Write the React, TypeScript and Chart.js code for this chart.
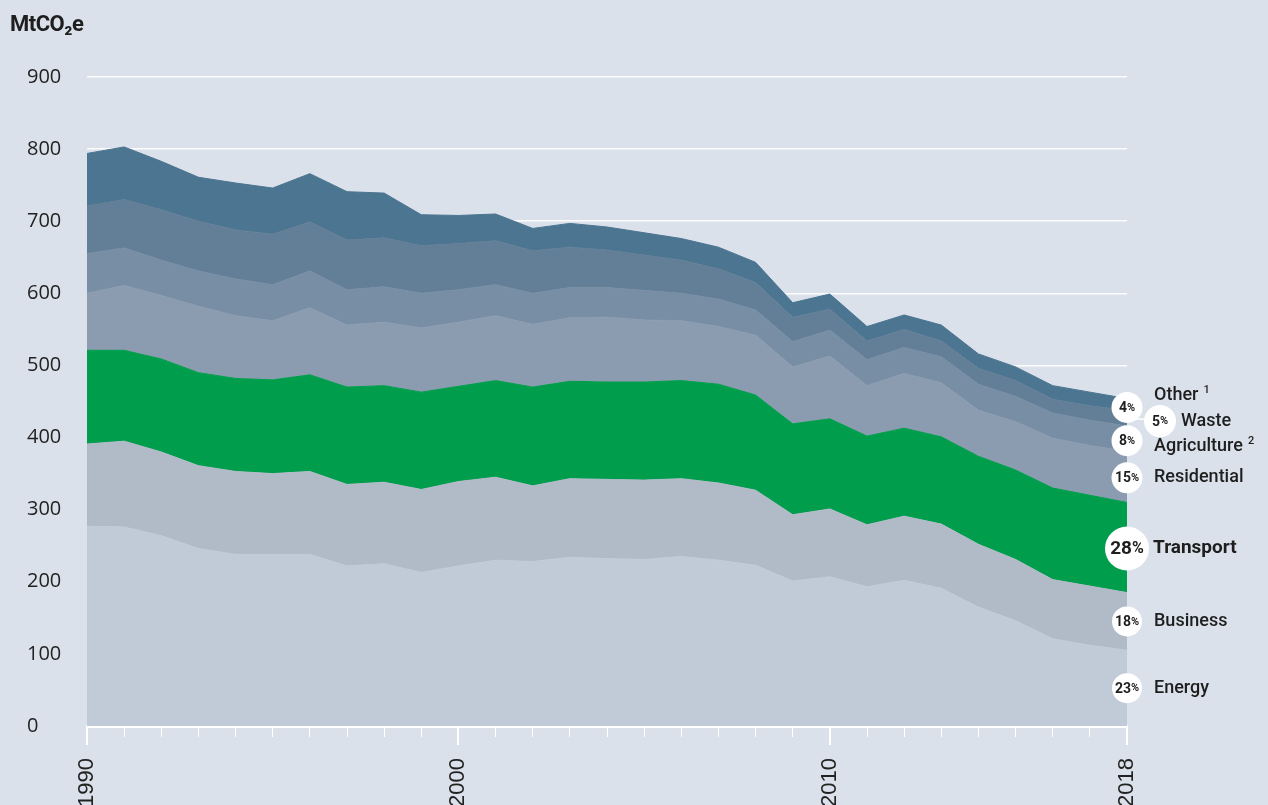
import React, { useEffect, useRef } from 'react';
import { Chart, registerables } from 'chart.js';

Chart.register(...registerables);

// ---- data (MtCO2e), 1990–2018 ----
const years = ['1990', '1991', '1992', '1993', '1994', '1995', '1996', '1997', '1998', '1999', '2000', '2001', '2002', '2003', '2004', '2005', '2006', '2007', '2008', '2009', '2010', '2011', '2012', '2013', '2014', '2015', '2016', '2017', '2018'];
const labelledYears = ['1990', '2000', '2010', '2018'];

const energy = [277, 276, 264, 246, 238, 238, 238, 222, 225, 213, 222, 230, 228, 234, 232, 231, 235, 230, 223, 201, 207, 193, 202, 191, 165, 146, 121, 112, 105];
const business = [114, 119, 116, 115, 115, 112, 115, 113, 113, 115, 117, 115, 105, 109, 110, 110, 108, 107, 104, 92, 94, 86, 89, 89, 87, 85, 82, 82, 80];
const transport = [130, 126, 129, 129, 129, 130, 134, 135, 134, 135, 132, 134, 137, 135, 135, 136, 136, 137, 132, 126, 125, 123, 122, 121, 122, 124, 127, 126, 125];
const residential = [79, 90, 88, 92, 87, 82, 93, 86, 88, 89, 89, 90, 87, 88, 90, 86, 83, 80, 83, 79, 87, 70, 76, 75, 64, 67, 69, 69, 71];
const agriculture = [55, 52, 49, 49, 51, 50, 51, 49, 49, 48, 45, 43, 43, 42, 41, 41, 38, 38, 35, 35, 36, 36, 36, 36, 36, 35, 35, 35, 35];
const waste = [66, 67, 70, 69, 68, 70, 68, 69, 68, 66, 64, 61, 59, 56, 52, 49, 46, 42, 38, 34, 29, 26, 25, 22, 22, 22, 19, 20, 22];
const other = [73, 73, 67, 61, 65, 64, 67, 67, 62, 43, 39, 37, 31, 33, 32, 31, 30, 30, 28, 20, 21, 20, 20, 22, 20, 19, 19, 19, 16];

const sectorNames = ['Energy', 'Business', 'Transport', 'Residential', 'Agriculture', 'Waste', 'Other'];
const sectorShares = ['23%', '18%', '28%', '15%', '8%', '5%', '4%'];
const sectorNotes = ['', '', '', '', '2', '', '1'];
const seriesValues = [energy, business, transport, residential, agriculture, waste, other];

const yTicks = [0, 100, 200, 300, 400, 500, 600, 700, 800, 900];

// ---- styling ----
const BG = '#dbe1ea';
const COLORS = ['#c1cbd7', '#b1bbc8', '#009e4c', '#8b9cb0', '#788ea4', '#637f97', '#4b7590'];
const CANVAS_W = 1268;
const CANVAS_H = 840;
const AREA_BOTTOM = 726;

// per-label layout tweaks (index matches sectorNames)
const circleStyle = [
  { r: 15, dx: 0, dy: 0, textDx: 27, textDy: 0, big: false },
  { r: 15, dx: 0, dy: 0, textDx: 27, textDy: 0, big: false },
  { r: 22, dx: 0, dy: 1, textDx: 26, textDy: 0, big: true },
  { r: 15.5, dx: 0, dy: 1, textDx: 27, textDy: 0, big: false },
  { r: 15.5, dx: 0, dy: 2, textDx: 27, textDy: 6, big: false },
  { r: 16, dx: 33, dy: 3, textDx: 21, textDy: 0, big: false },
  { r: 15.5, dx: 0, dy: 3, textDx: 27, textDy: -12, big: false },
];

function drawShare(ctx: any, text: string, x: number, y: number, big: boolean) {
  const num = text.replace('%', '');
  const numFont = big ? '700 19px Roboto' : '700 14px Roboto';
  const pctFont = big ? '700 16px Roboto' : '700 11px Roboto';
  ctx.font = numFont;
  const wn = ctx.measureText(num).width;
  ctx.font = pctFont;
  const wp = ctx.measureText('%').width;
  const start = x - (wn + wp) / 2;
  ctx.textAlign = 'left';
  ctx.font = numFont;
  ctx.fillText(num, start, y);
  ctx.font = pctFont;
  ctx.fillText('%', start + wn, y - (big ? 1 : 0.5));
}

const annotationPlugin = {
  id: 'shareLabels',
  afterDraw(chart: any) {
    const ctx = chart.ctx;
    const xs = chart.scales.x;
    const ys = chart.scales.y;
    const last = years.length - 1;
    const x0 = xs.getPixelForValue(last);

    // longer ticks for labelled years
    ctx.save();
    ctx.strokeStyle = '#ffffff';
    ctx.lineWidth = 2;
    years.forEach((yr, i) => {
      if (labelledYears.includes(yr)) {
        const px = Math.round(xs.getPixelForValue(i));
        ctx.beginPath();
        ctx.moveTo(px, AREA_BOTTOM);
        ctx.lineTo(px, AREA_BOTTOM + 19);
        ctx.stroke();
      }
    });
    ctx.restore();

    let cum = 0;
    const centers: { x: number; y: number }[] = [];
    seriesValues.forEach((vals, i) => {
      const v = vals[last];
      const mid = cum + v / 2;
      cum += v;
      const st = circleStyle[i];
      centers.push({ x: x0 + st.dx, y: ys.getPixelForValue(mid) + st.dy });
    });

    ctx.save();
    // leader line for waste
    const wi = 5;
    ctx.strokeStyle = '#ffffff';
    ctx.lineWidth = 1.5;
    ctx.beginPath();
    ctx.moveTo(x0, centers[wi].y - 2);
    ctx.lineTo(centers[wi].x - circleStyle[wi].r + 1, centers[wi].y - 2);
    ctx.stroke();

    seriesValues.forEach((_, i) => {
      const st = circleStyle[i];
      const c = centers[i];
      ctx.fillStyle = '#ffffff';
      ctx.beginPath();
      ctx.arc(c.x, c.y, st.r, 0, Math.PI * 2);
      ctx.fill();

      // share text
      ctx.fillStyle = '#1e1e1e';
      ctx.textBaseline = 'middle';
      drawShare(ctx, sectorShares[i], c.x, c.y + 1, st.big);

      // sector name
      ctx.textAlign = 'left';
      ctx.font = i === 2 ? '700 19px Roboto' : '500 18px Roboto';
      const tx = c.x + st.textDx;
      const ty = c.y + st.textDy;
      ctx.fillText(sectorNames[i], tx, ty);
      if (sectorNotes[i]) {
        const w = ctx.measureText(sectorNames[i]).width;
        ctx.font = '500 11px Roboto';
        ctx.fillText(sectorNotes[i], tx + w + 5, ty - 5);
      }
    });
    ctx.restore();
  },
};

export default function App() {
  const ref = useRef<HTMLCanvasElement>(null);

  useEffect(() => {
    const canvas = ref.current;
    if (!canvas) return;
    const datasets = seriesValues.map((vals, i) => ({
      label: sectorNames[i],
      data: vals,
      backgroundColor: COLORS[i],
      borderColor: COLORS[i],
      borderWidth: 1,
      pointRadius: 0,
      tension: 0,
      fill: i === 0 ? 'origin' : '-1',
    }));

    const chart = new Chart(canvas, {
      type: 'line',
      data: { labels: years, datasets },
      options: {
        responsive: false,
        animation: false,
        devicePixelRatio: 1,
        layout: { padding: { left: 27, right: 141, top: 77, bottom: 0 } },
        plugins: {
          legend: { display: false },
          tooltip: { enabled: false },
          title: { display: false },
        },
        scales: {
          x: {
            z: 1,
            offset: false,
            grid: {
              drawOnChartArea: false,
              drawTicks: true,
              tickLength: 11,
              color: '#ffffff',
              lineWidth: (c: any) => (labelledYears.includes(years[c.index]) ? 2 : 1),
            },
            border: { display: true, color: '#ffffff', width: 3 },
            ticks: {
              autoSkip: false,
              maxRotation: 90,
              minRotation: 90,
              padding: 21,
              color: '#222222',
              font: { family: 'Liberation Sans', size: 22 },
              callback: (_v: any, i: number) => (labelledYears.includes(years[i]) ? years[i] : ''),
            },
            afterFit: (s: any) => {
              s.height = CANVAS_H - AREA_BOTTOM;
            },
          },
          y: {
            z: 1,
            stacked: true,
            min: yTicks[0],
            max: yTicks[yTicks.length - 1],
            afterBuildTicks: (s: any) => {
              s.ticks = yTicks.map((v) => ({ value: v }));
            },
            grid: { color: 'rgba(255,255,255,0.9)', lineWidth: 1.5, drawTicks: false },
            border: { display: false },
            ticks: {
              crossAlign: 'far',
              padding: 0,
              color: '#222222',
              font: { family: 'Open Sans', size: 20 },
            },
            afterFit: (s: any) => {
              s.width = 60;
            },
          },
        },
      },
      plugins: [annotationPlugin],
    } as any);
    return () => chart.destroy();
  }, []);

  return (
    <div
      style={{
        position: 'fixed',
        left: 0,
        top: 0,
        width: CANVAS_W,
        height: 805,
        overflow: 'hidden',
        background: BG,
      }}
    >
      <div
        style={{
          position: 'absolute',
          left: 10,
          top: 12,
          fontFamily: 'Roboto, sans-serif',
          fontWeight: 700,
          fontSize: 22,
          lineHeight: '24px',
          letterSpacing: '-0.5px',
          color: '#1e1e1e',
        }}
      >
        MtCO₂e
      </div>
      <canvas
        ref={ref}
        width={CANVAS_W}
        height={CANVAS_H}
        style={{ display: 'block', width: CANVAS_W, height: CANVAS_H }}
      />
    </div>
  );
}
